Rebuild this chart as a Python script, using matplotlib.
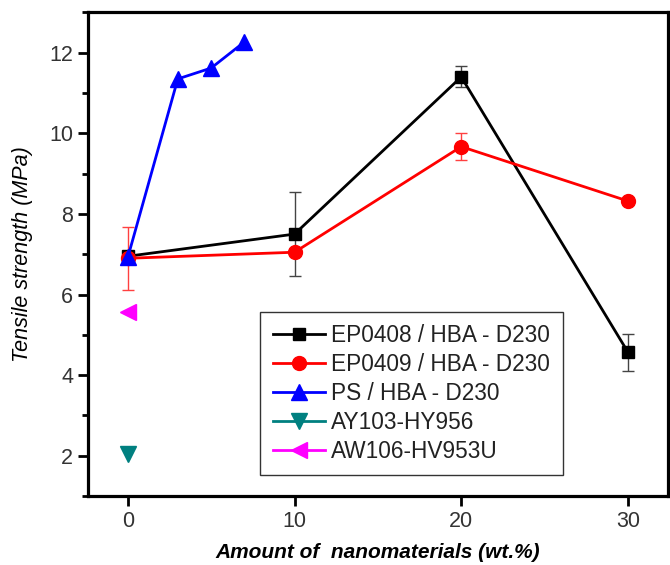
import numpy as np
import matplotlib.pyplot as plt
from matplotlib.ticker import MultipleLocator

plt.rcParams['font.family'] = ['Liberation Sans', 'DejaVu Sans']

# data
x_main = [0, 10, 20, 30]
ep0408 = [6.95, 7.5, 11.4, 4.57]
ep0408_err = [0, 1.04, 0.26, 0.46]
ep0409 = [6.9, 7.05, 9.67, 8.32]
ep0409_err = [0.78, 0, 0.34, 0]
x_ps = [0, 3, 5, 7]
ps = [6.92, 11.35, 11.62, 12.27]
x_single = [0]
ay103 = [2.05]
aw106 = [5.57]

fig = plt.figure(figsize=(6.7, 5.65), dpi=100)
ax = fig.add_axes([0.131, 0.122, 0.866, 0.856])

# error bars first so the markers sit on top
ax.errorbar(x_main, ep0408, yerr=ep0408_err, fmt='none', ecolor='#444444',
            elinewidth=1, capsize=4, capthick=1, zorder=2)
ax.errorbar(x_main, ep0409, yerr=ep0409_err, fmt='none', ecolor='#ff4040',
            elinewidth=1, capsize=4, capthick=1, zorder=2)

ax.plot(x_main, ep0408, '-s', color='black', lw=2, ms=9, label='EP0408 / HBA - D230', zorder=3)
ax.plot(x_main, ep0409, '-o', color='red', lw=2, ms=10, label='EP0409 / HBA - D230', zorder=4)
ax.plot(x_ps, ps, '-^', color='blue', lw=2, ms=11, label='PS / HBA - D230', zorder=5)
ax.plot(x_single, ay103, '-v', color='#008080', lw=2, ms=11, label='AY103-HY956', zorder=5)
ax.plot(x_single, aw106, '-<', color='magenta', lw=2, ms=11, label='AW106-HV953U', zorder=5)

ax.set_xlim(-2.4, 32.4)
ax.set_ylim(1, 13)
ax.set_xticks(x_main)
ax.yaxis.set_major_locator(MultipleLocator(2))
ax.yaxis.set_minor_locator(MultipleLocator(1))
ax.tick_params(axis='both', which='major', direction='out', length=7, width=2,
               labelsize=15.5, colors='black', labelcolor='#333333')
ax.tick_params(axis='y', which='minor', direction='out', length=4, width=2)
for s in ax.spines.values():
    s.set_linewidth(2.3)

ax.set_xlabel('Amount of  nanomaterials (wt.%)', fontsize=15, fontweight='bold',
              fontstyle='italic', labelpad=8)
ax.set_ylabel('Tensile strength (MPa)', fontsize=15.5, fontstyle='italic', labelpad=12)

leg = ax.legend(loc='lower left', bbox_to_anchor=(0.297, 0.043), borderaxespad=0,
                fontsize=16.3, handlelength=2.3, handletextpad=0.3, labelspacing=0.26,
                borderpad=0.55, numpoints=1, fancybox=False, framealpha=1,
                edgecolor='#333333')
leg.get_frame().set_linewidth(1)
for t in leg.get_texts():
    t.set_color('#222222')

plt.savefig('out.png', dpi=100)
